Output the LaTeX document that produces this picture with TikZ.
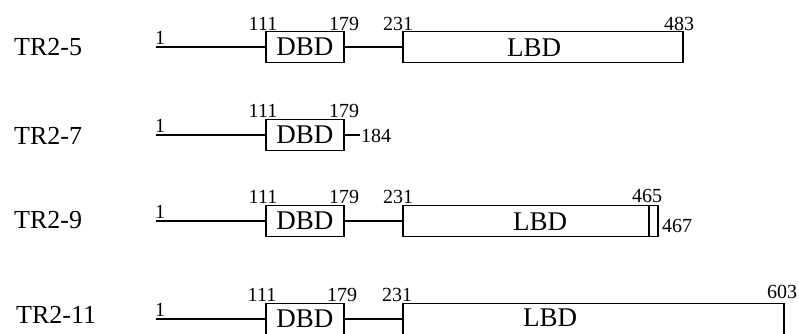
\documentclass[tikz,border=0pt]{standalone}
\usepackage{fontspec}
\setmainfont{Liberation Serif}
\begin{document}
\begin{tikzpicture}[x=1pt,y=-1pt,
  rowlbl/.style={anchor=west,inner sep=0pt,font=\fontsize{26}{30}\selectfont},
  num/.style={anchor=base,inner sep=0pt,font=\fontsize{20}{23}\selectfont},
  dom/.style={draw,line width=1.6pt,anchor=west,minimum height=31pt,inner sep=0pt,
    font=\fontsize{27}{30}\selectfont},
  domtext/.style={inner sep=0pt,font=\fontsize{27}{30}\selectfont},
  link/.style={line width=1.6pt}]
\useasboundingbox (0,0) rectangle (799,333);
\clip (0,0) rectangle (799,333);
% ---------- row 1: TR2-5 ----------
\node[rowlbl] (l1) at (14,47) {TR2-5};
\coordinate (s1) at (156,47);
\node[dom,minimum width=78pt] (d1) at (265,47) {DBD};
\node[dom,minimum width=280pt] (b1) at (402,47) {};
\node[domtext] (t1) at (534,48) {LBD};
\draw[link] (s1) -- (d1.west);
\draw[link] (d1.east) -- (b1.west);
\node[num,anchor=base west] (n1a) at (155,44) {1};
\node[num] (n1b) at (263,30) {111};
\node[num] (n1c) at (344,30) {179};
\node[num] (n1d) at (398,30) {231};
\node[num] (n1e) at (679,30) {483};
% ---------- row 2: TR2-7 ----------
\node[rowlbl] (l2) at (14,136) {TR2-7};
\coordinate (s2) at (156,135);
\node[dom,minimum width=78pt] (d2) at (265,135) {DBD};
\coordinate (e2) at (360,135);
\draw[link] (s2) -- (d2.west);
\draw[link] (d2.east) -- (e2);
\node[num,anchor=base west] (n2a) at (155,132) {1};
\node[num] (n2b) at (263,117) {111};
\node[num] (n2c) at (344,117) {179};
\node[num,anchor=west] (n2d) at (361,136) {184};
% ---------- row 3: TR2-9 ----------
\node[rowlbl] (l3) at (14,220) {TR2-9};
\coordinate (s3) at (156,221);
\node[dom,minimum width=78pt] (d3) at (265,221) {DBD};
\node[dom,minimum width=246pt] (b3) at (402,221) {};
\node[dom,minimum width=9pt] (x3) at (648,221) {};
\node[domtext] (t3) at (540,222) {LBD};
\draw[link] (s3) -- (d3.west);
\draw[link] (d3.east) -- (b3.west);
\node[num,anchor=base west] (n3a) at (155,218) {1};
\node[num] (n3b) at (263,203) {111};
\node[num] (n3c) at (344,203) {179};
\node[num] (n3d) at (398,203) {231};
\node[num] (n3e) at (647,202) {465};
\node[num,anchor=west] (n3f) at (662,226) {467};
% ---------- row 4: TR2-11 ----------
\node[rowlbl] (l4) at (16,315) {TR2-11};
\coordinate (s4) at (156,319);
\node[dom,minimum width=78pt] (d4) at (265,319) {DBD};
\node[dom,minimum width=381pt] (b4) at (402,319) {};
\node[domtext] (t4) at (550,318) {LBD};
\draw[link] (s4) -- (d4.west);
\draw[link] (d4.east) -- (b4.west);
\node[num,anchor=base west] (n4a) at (155,316) {1};
\node[num] (n4b) at (262,301) {111};
\node[num] (n4c) at (342,301) {179};
\node[num] (n4d) at (397,301) {231};
\node[num] (n4e) at (782,298) {603};
\end{tikzpicture}
\end{document}
